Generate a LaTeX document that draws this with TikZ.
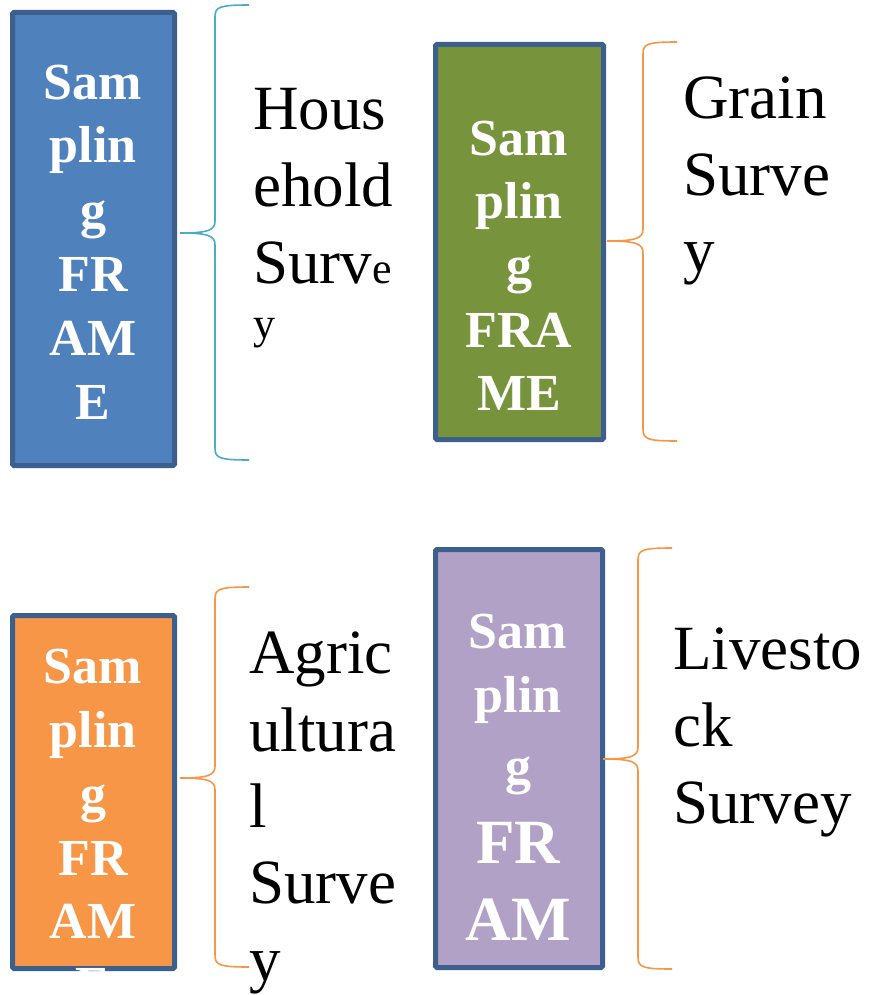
\documentclass[tikz,border=0pt]{standalone}
\usepackage{fontspec}
\setmainfont{Liberation Serif}
\definecolor{cBlue}{HTML}{4F81BD}
\definecolor{cGreen}{HTML}{77933C}
\definecolor{cOrange}{HTML}{F79646}
\definecolor{cPurple}{HTML}{B2A1C7}
\definecolor{cBorder}{HTML}{3D5F8E}
\definecolor{cCyan}{HTML}{4BACC6}
\tikzset{
  frame/.style={draw=cBorder, line width=5pt, rounded corners=1.5pt, inner sep=0pt},
  lab/.style={anchor=base, inner sep=0pt, text=white, font=\bfseries\fontsize{52}{60}\selectfont},
  labbig/.style={lab, font=\bfseries\fontsize{63}{70}\selectfont},
  txt/.style={anchor=base west, inner sep=0pt, text=black, font=\fontsize{63}{70}\selectfont},
  txtsmall/.style={txt, font=\fontsize{44}{50}\selectfont},
  brc/.style={line width=1.6pt}
}
\newcommand\drawbrace[7]{%
  \draw[brc,#1] (#4,#5) .. controls (#3+4,#5) and (#3,#5+2) .. (#3,#5+12)
    -- (#3,#6-12) .. controls (#3,#6-3) and (#3-6,#6) .. (#2,#6)
    .. controls (#3-6,#6) and (#3,#6+3) .. (#3,#6+12)
    -- (#3,#7-12) .. controls (#3,#7-2) and (#3+4,#7) .. (#4,#7);}
\begin{document}
\begin{tikzpicture}[x=1pt,y=-1pt]
\useasboundingbox (0,0) rectangle (868,995);
% boxes
\node[frame, fill=cBlue, minimum width=162pt, minimum height=453pt] (b1) at (93.5,239) {};
\node[frame, fill=cGreen, minimum width=168pt, minimum height=395pt] (b2) at (519.5,242) {};
\node[frame, fill=cOrange, minimum width=162pt, minimum height=353pt] (b3) at (93.5,792) {};
\node[frame, fill=cPurple, minimum width=167pt, minimum height=418pt] (b4) at (519,758.5) {};
% box labels
\foreach \t/\y [count=\i] in {Sam/100, plin/163, g/227, FR/291, AM/355, E/419}
  \node[lab] (b1l\i) at (93,\y) {\t};
\foreach \t/\y [count=\i] in {Sam/156, plin/218, g/282, FRA/347, ME/410}
  \node[lab] (b2l\i) at (519,\y) {\t};
\foreach \t/\y [count=\i] in {Sam/683, plin/747, g/811, FR/875, AM/938}
  \node[lab] (b3l\i) at (93,\y) {\t};
\begin{scope}
  \clip (0,0) rectangle (868,975);
  \node[lab] (b3l6) at (93,1002) {E};
\end{scope}
\foreach \t/\y [count=\i] in {Sam/648, plin/712, g/783}
  \node[lab] (b4l\i) at (518,\y) {\t};
\node[labbig] (b4l4) at (518,863) {FR};
\node[labbig] (b4l5) at (518,940) {AM};
% braces
\drawbrace{cCyan}{180}{215}{249}{5}{233}{460}
\drawbrace{cOrange}{607}{643}{677}{42}{241}{441}
\drawbrace{cOrange}{180}{215}{249}{587}{778}{967}
\drawbrace{cOrange}{603}{638}{672}{548}{759}{969}
% survey texts
\node[txt] (h1) at (253,130) {Hous};
\node[txt] (h2) at (253,206) {ehold};
\node[txt] (h3) at (253,283) {Surv{\fontsize{44}{50}\selectfont e}};
\node[txtsmall] (h4) at (253,338) {y};
\node[txt] (g1) at (683,119) {Grain};
\node[txt] (g2) at (683,196) {Surve};
\node[txt] (g3) at (683,271) {y};
\node[txt] (a1) at (249,673) {Agric};
\node[txt] (a2) at (249,751) {ultura};
\node[txt] (a3) at (249,827) {l};
\node[txt] (a4) at (249,903) {Surve};
\node[txt] (a5) at (249,980) {y};
\node[txt] (l1) at (673,669) {Livesto};
\node[txt] (l2) at (673,746) {ck};
\node[txt] (l3) at (673,823) {Survey};
\end{tikzpicture}
\end{document}
